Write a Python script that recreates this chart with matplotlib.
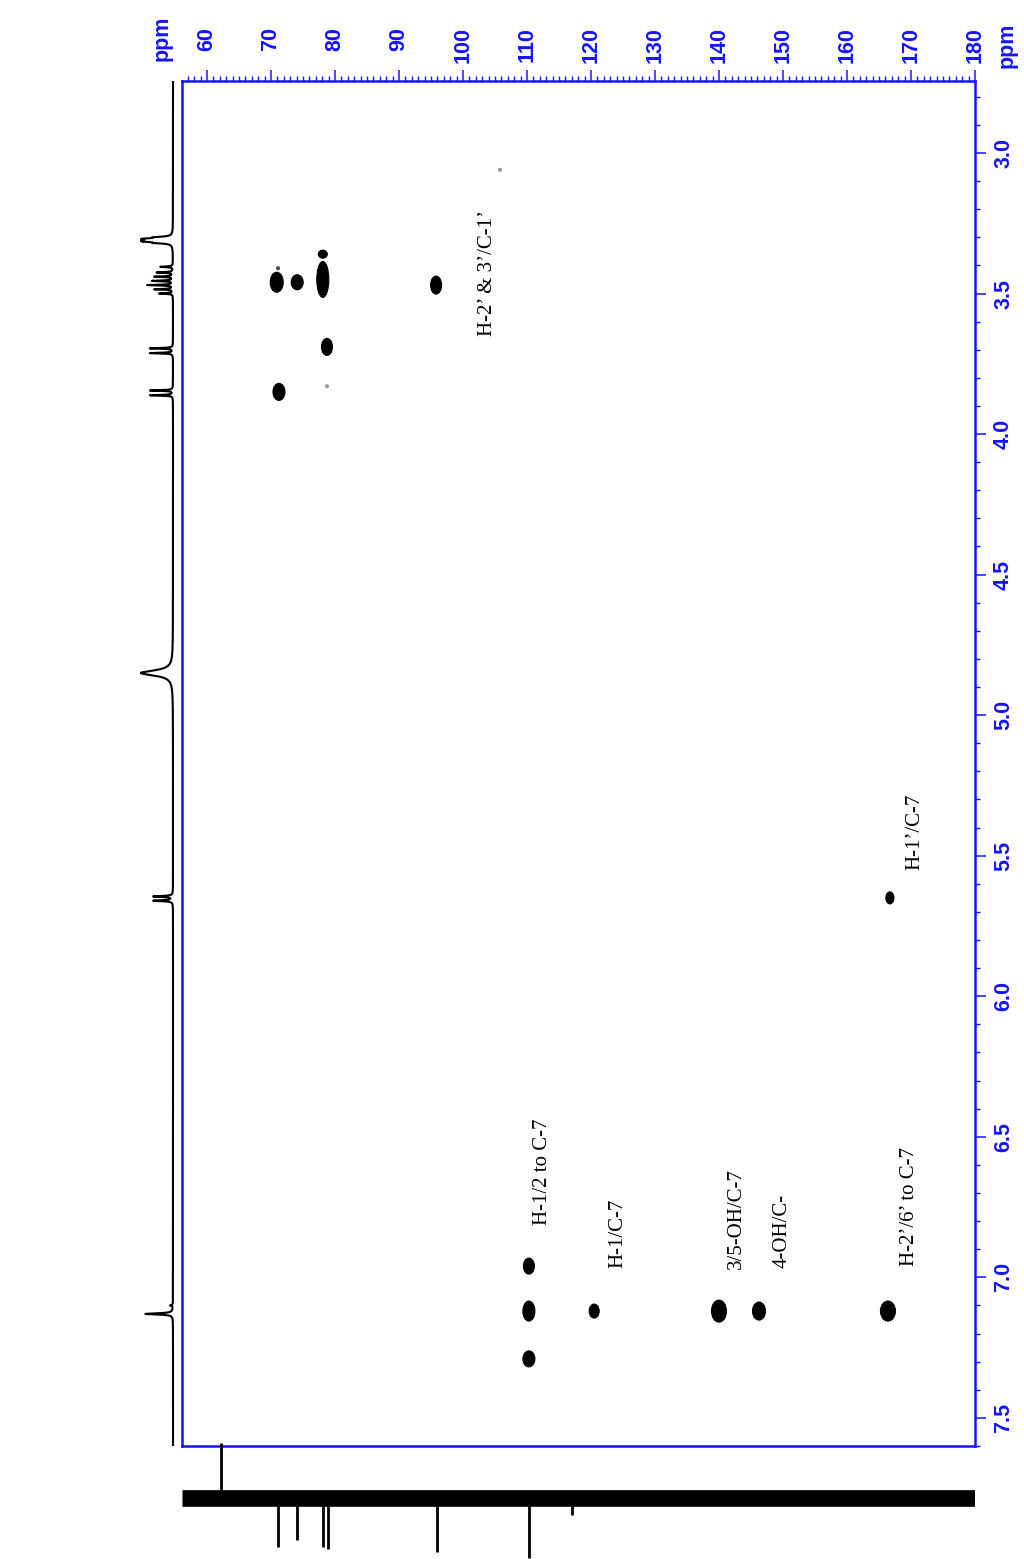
import numpy as np
import matplotlib
matplotlib.use("Agg")
import matplotlib.pyplot as plt
from matplotlib.patches import Ellipse
from matplotlib.transforms import blended_transform_factory

# cross peaks: 13C shift, 1H shift, size in px (w, h), grey level
c13_pk = [70.9, 74.1, 78.1, 78.1, 71.1, 95.8, 78.75, 71.25, 78.75, 105.8,
          166.7, 110.3, 110.3, 110.3, 120.5, 140.0, 146.25, 166.4]
h1_pk = [3.46, 3.46, 3.36, 3.45, 3.41, 3.47, 3.69, 3.85, 3.83, 3.06,
         5.65, 6.96, 7.12, 7.29, 7.12, 7.12, 7.12, 7.12]
pk_w = [13, 12, 9, 12, 3, 11, 11, 12, 3, 3, 8, 11, 12, 12, 10, 15, 13, 15]
pk_h = [20, 15, 8, 36, 3, 18, 17, 17, 3, 3, 12, 16, 20, 16, 14, 22, 18, 20]
pk_grey = ['k', 'k', 'k', 'k', '0.3', 'k', 'k', 'k', '0.6', '0.6',
           'k', 'k', 'k', 'k', 'k', 'k', 'k', 'k']

# assignment labels: text, 13C position, 1H position of text bottom
lab_text = ["H-2\u2019 & 3\u2019/C-1\u2019", "H-1\u2019/C-7", "H-1/2 to C-7",
            "H-1/C-7", "3/5-OH/C-7", "4-OH/C-", "H-2\u2019/6\u2019 to C-7"]
lab_c = [103.9, 170.6, 112.5, 124.2, 142.8, 149.8, 169.8]
lab_h = [3.65, 5.55, 6.815, 6.965, 6.97, 6.965, 6.96]

# 1H projection peaks
h1_shift = [3.300, 3.305, 3.310, 3.315, 3.320, 3.405, 3.425, 3.440, 3.455,
            3.470, 3.485, 3.500, 3.695, 3.712, 3.845, 3.862, 4.850, 5.645,
            5.660, 7.100, 7.130]
h1_height = [0.6, 0.9, 1.3, 0.9, 0.6, 0.55, 0.7, 0.8, 0.9, 1.1, 0.8, 0.6,
             1.0, 1.0, 1.0, 1.0, 1.4, 0.85, 0.85, 0.12, 1.2]
h1_width = [0.0025] * 5 + [0.0015] * 11 + [0.011, 0.002, 0.002, 0.002, 0.0025]

# 13C projection peaks (height in px from baseline, + is up)
c13_shift = [62.2, 71.1, 74.1, 78.1, 78.9, 95.9, 110.3, 117.0]
c13_height = [55, -49, -42, -49, -51, -54, -60, -17]

W, H = 1024, 1559
fig = plt.figure(figsize=(W / 100, H / 100), dpi=100)
blue = '#1414ff'

def frac(l, t, r, b):
    return [l / W, 1 - b / H, (r - l) / W, (b - t) / H]

xlo, xhi = 56.1, 180.0
ylo, yhi = 2.744, 7.60

ax = fig.add_axes(frac(182, 81, 975, 1446))
ax.set_xlim(xlo, xhi)
ax.set_ylim(yhi, ylo)
for s in ax.spines.values():
    s.set_color(blue)
    s.set_linewidth(1.8)

ax.xaxis.tick_top()
ax.yaxis.tick_right()
ax.set_xticks(np.arange(60, 181, 10))
ax.set_xticks(np.arange(57, 181, 1), minor=True)
ax.set_yticks(np.arange(3.0, 7.51, 0.5))
ax.set_yticks(np.arange(2.8, 7.61, 0.1), minor=True)
ax.tick_params(which='major', length=8, width=1.1, color=blue, direction='out')
ax.tick_params(which='minor', length=3.5, width=1.0, color=blue, direction='out')
ax.tick_params(axis='x', labeltop=False, labelbottom=False)
ax.tick_params(axis='y', labelright=True, labelleft=False, pad=5)
ax.set_yticklabels([f"{v:.1f}" for v in np.arange(3.0, 7.51, 0.5)],
                   rotation=90, va='center', color=blue,
                   fontsize=15.5, fontweight='bold', family='Liberation Sans')

# top tick labels, top aligned
tr = blended_transform_factory(ax.transData, fig.transFigure)
for v in range(60, 181, 10):
    fig.text(v, 1 - 27 / H, str(v), transform=tr, rotation=90, ha='center',
             va='top', color=blue, fontsize=15.5, fontweight='bold',
             family='Liberation Sans')
fig.text(162 / W, 1 - 38 / H, 'ppm', rotation=90, ha='center', va='center',
         color=blue, fontsize=15.5, fontweight='bold', family='Liberation Sans')
fig.text(1007 / W, 1 - 45 / H, 'ppm', rotation=90, ha='center', va='center',
         color=blue, fontsize=15.5, fontweight='bold', family='Liberation Sans')

# cross peaks
px_x = (xhi - xlo) / (975 - 182)
px_y = (yhi - ylo) / (1446 - 81)
for c, h, w, hh, g in zip(c13_pk, h1_pk, pk_w, pk_h, pk_grey):
    ax.add_patch(Ellipse((c, h), w * px_x, hh * px_y, facecolor=g,
                         edgecolor=g, lw=0.8))

for t, c, h in zip(lab_text, lab_c, lab_h):
    ax.text(c, h, t, rotation=90, ha='center', va='bottom', fontsize=15,
            family='Liberation Serif', color='black')

# 1H projection on the left
ax1 = fig.add_axes(frac(140, 81, 176, 1446))
ppm = np.linspace(ylo, yhi, 30000)
spec = np.zeros_like(ppm)
for p, a, w in zip(h1_shift, h1_height, h1_width):
    spec += a * w**2 / ((ppm - p)**2 + w**2)
ax1.plot(spec, ppm, color='black', lw=1.5)
ax1.set_xlim(1.435, -0.13)
ax1.set_ylim(yhi, ylo)
ax1.axis('off')

# 13C projection at the bottom
ax2 = fig.add_axes(frac(182, 1440, 975, 1559))
ax2.set_xlim(xlo, xhi)
ax2.set_ylim(-61, 58)
ax2.plot([xlo, xhi], [0, 0], color='black', lw=12, solid_capstyle='butt')
ax2.vlines(c13_shift, 0, c13_height, color='black', lw=2)
ax2.axis('off')

fig.savefig('out.png', dpi=100)
